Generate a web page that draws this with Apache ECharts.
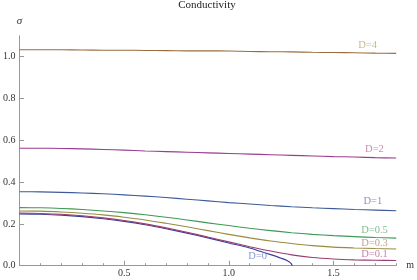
<!DOCTYPE html>
<html>
<head>
<meta charset="utf-8">
<script src="https://cdn.jsdelivr.net/npm/echarts@6/dist/echarts.min.js"></script>
<style>html,body{margin:0;padding:0;background:#fff}#c{width:417px;height:280px}</style>
</head>
<body>
<div id="c"></div>
<script>
// ---- data ----
const mGrid = [0,0.1,0.2,0.3,0.4,0.5,0.6,0.7,0.8,0.9,1.0,1.1,1.2,1.3,1.4,1.5,1.6,1.7,1.8];
const sigmaD4   = [1.033,1.033,1.033,1.032,1.031,1.031,1.030,1.029,1.028,1.028,1.027,1.025,1.024,1.023,1.021,1.020,1.019,1.017,1.016];
const sigmaD2   = [0.562,0.562,0.561,0.559,0.556,0.553,0.549,0.546,0.543,0.540,0.537,0.534,0.531,0.528,0.525,0.522,0.520,0.517,0.515];
const sigmaD1   = [0.354,0.353,0.351,0.348,0.344,0.339,0.333,0.326,0.318,0.310,0.302,0.295,0.288,0.282,0.277,0.273,0.269,0.266,0.263];
const sigmaD05  = [0.278,0.277,0.274,0.269,0.262,0.254,0.244,0.232,0.219,0.205,0.192,0.179,0.168,0.158,0.150,0.144,0.139,0.135,0.132];
const sigmaD03  = [0.262,0.261,0.257,0.251,0.243,0.232,0.219,0.203,0.186,0.168,0.150,0.133,0.118,0.106,0.096,0.089,0.085,0.082,0.080];
const sigmaD01  = [0.252,0.250,0.246,0.239,0.229,0.216,0.200,0.181,0.160,0.137,0.114,0.091,0.070,0.052,0.039,0.032,0.028,0.026,0.025];
const mD0       = [0,0.1,0.2,0.3,0.4,0.5,0.6,0.7,0.8,0.9,1.0,1.1,1.15,1.2,1.25,1.28,1.295,1.304];
const sigmaD0   = [0.248,0.246,0.242,0.235,0.225,0.212,0.196,0.177,0.156,0.133,0.109,0.085,0.069,0.053,0.036,0.024,0.013,0.0];
const seriesNames = ['D=0','D=0.1','D=0.3','D=0.5','D=1','D=2','D=4'];
const yTickLabels = [0,0.2,0.4,0.6,0.8,1.0];
const xTickLabels = [0.5,1.0,1.5];
// label anchor points (data coords) for curve labels
const labelM     = [1.138,1.696,1.696,1.696,1.688,1.696,1.663];
const labelSigma = [0.043,0.055,0.107,0.171,0.310,0.557,1.057];

// ---- styles ----
const lineColors  = ['#3f3d99','#993d71','#998c3d','#3d9955','#3d5a99','#993d90','#996d3d'];
const labelColors = ['#6f7fc4','#b8609c','#b08c6a','#5fae6f','#7070c0','#c0709e','#b5aa6e'];
const serif = "'Liberation Serif', 'DejaVu Serif', serif";

const curves = [
  [mD0, sigmaD0], [mGrid, sigmaD01], [mGrid, sigmaD03], [mGrid, sigmaD05],
  [mGrid, sigmaD1], [mGrid, sigmaD2], [mGrid, sigmaD4]
];

const series = curves.map((c, i) => ({
  name: seriesNames[i],
  type: 'line',
  xAxisIndex: 0, yAxisIndex: 0,
  showSymbol: false,
  smooth: 0.3,
  lineStyle: { color: lineColors[i], width: 1.1 },
  data: c[0].map((x, k) => [x, c[1][k]]),
  z: 3
}));

series.push({
  type: 'scatter',
  xAxisIndex: 0, yAxisIndex: 0,
  symbolSize: 0,
  silent: true,
  data: seriesNames.map((n, i) => ({
    value: [labelM[i], labelSigma[i]],
    label: { show: true, position: 'inside', formatter: n, color: labelColors[i],
             fontFamily: serif, fontSize: 10.5 }
  })),
  z: 4
});

const chart = echarts.init(document.getElementById('c'), null, { renderer: 'canvas' });
chart.setOption({
  animation: false,
  backgroundColor: '#fff',
  title: {
    text: 'Conductivity', left: 207, top: 0, textAlign: 'center', padding: 0,
    textStyle: { fontFamily: serif, fontSize: 11, fontWeight: 'normal', color: '#222' }
  },
  grid: { left: 16.4, right: 19, top: 35.8, bottom: 14.3, containLabel: false },
  xAxis: [
    {
      type: 'value', min: 0, max: 1.8, interval: 0.1,
      name: 'm', nameLocation: 'end', nameGap: 10,
      nameTextStyle: { fontFamily: serif, fontSize: 10, color: '#333', verticalAlign: 'middle' },
      axisLine: { show: true, lineStyle: { color: '#999', width: 1 } },
      axisTick: { show: true, inside: true, length: 2.5, lineStyle: { color: '#999' } },
      axisLabel: { customValues: xTickLabels, fontFamily: serif, fontSize: 10, color: '#333', margin: 3,
                   formatter: v => v.toFixed(1) },
      splitLine: { show: false }
    },
    {
      type: 'value', min: 0, max: 1.8, position: 'bottom',
      axisLine: { show: false },
      axisTick: { show: true, inside: true, length: 5, customValues: xTickLabels, lineStyle: { color: '#999' } },
      axisLabel: { show: false },
      splitLine: { show: false }
    }
  ],
  yAxis: {
    type: 'value', min: 0, max: 1.1, interval: 0.2,
    name: 'σ', nameLocation: 'end', nameGap: 9,
    nameTextStyle: { fontFamily: serif, fontSize: 11, fontStyle: 'italic', color: '#333', align: 'center' },
    axisLine: { show: true, lineStyle: { color: '#999', width: 1 } },
    axisTick: { show: true, inside: true, length: 4.5, customValues: yTickLabels, lineStyle: { color: '#999' } },
    axisLabel: { customValues: yTickLabels, fontFamily: serif, fontSize: 10, color: '#333', margin: 4,
                 formatter: v => v.toFixed(1) },
    splitLine: { show: false }
  },
  series: series
});
</script>
</body>
</html>
